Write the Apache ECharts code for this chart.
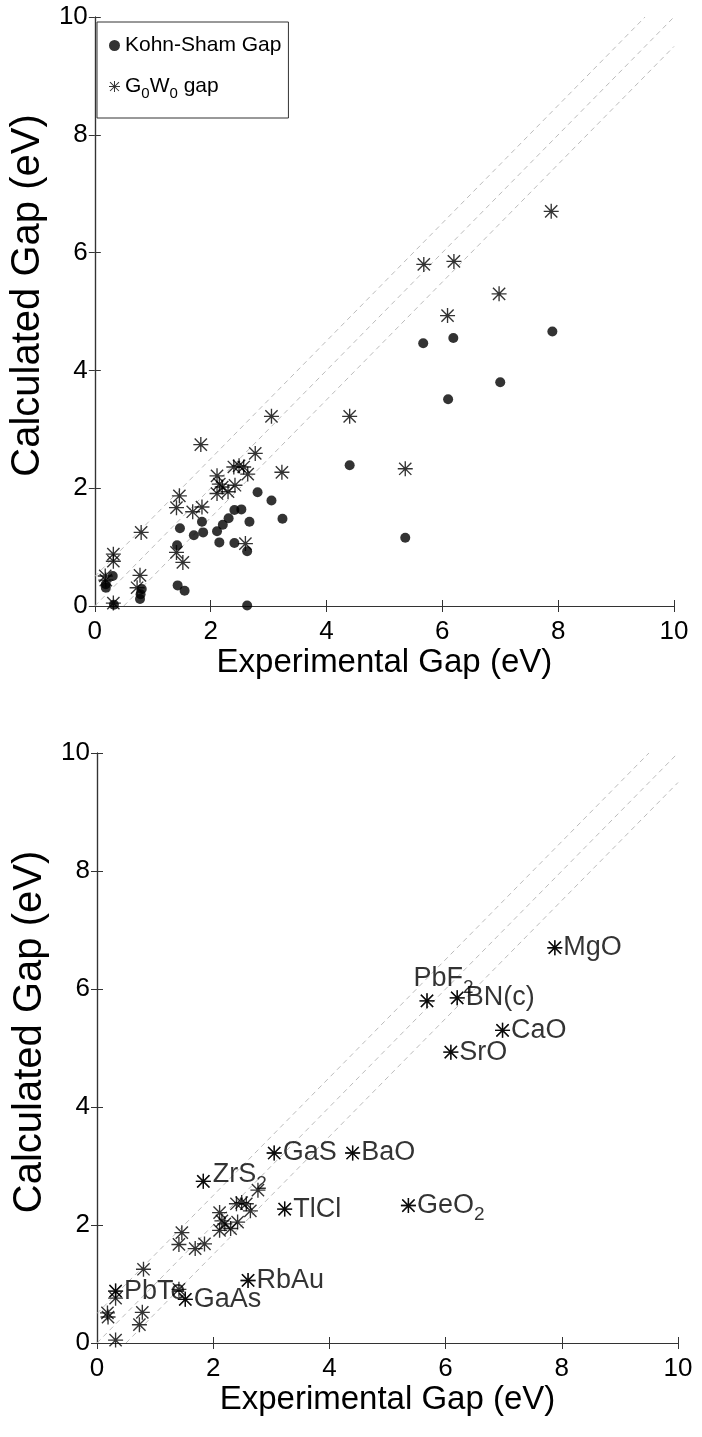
<!DOCTYPE html>
<html>
<head>
<meta charset="utf-8">
<script src="https://cdn.jsdelivr.net/npm/echarts@6/dist/echarts.min.js"></script>
<style>
  html, body { margin: 0; padding: 0; background: #fff; }
  #chart { width: 702px; height: 1437px; }
</style>
</head>
<body>
<div id="chart"></div>
<script>
// Kohn-Sham gaps [experimental, calculated]
const ksGap = [
  [0.19, 0.37], [0.19, 0.31], [0.31, 0.51], [0.33, 0.02], [0.78, 0.12],
  [0.79, 0.20], [0.81, 0.29], [1.42, 1.03], [1.43, 0.35], [1.55, 0.26],
  [1.47, 1.32], [1.71, 1.20], [1.85, 1.43], [1.87, 1.25], [2.11, 1.27],
  [2.15, 1.08], [2.21, 1.38], [2.31, 1.49], [2.41, 1.63], [2.53, 1.64],
  [2.41, 1.07], [2.63, 0.93], [2.67, 1.43], [2.63, 0.01], [2.81, 1.93],
  [3.05, 1.79], [3.24, 1.48], [4.40, 2.39], [5.36, 1.16], [5.67, 4.46],
  [6.10, 3.51], [6.19, 4.55], [7.00, 3.80], [7.90, 4.66]
];

// G0W0 gaps [experimental, calculated]
const gwGap = [
  [0.18, 0.51], [0.19, 0.44], [0.32, 0.88], [0.32, 0.76], [0.32, 0.05],
  [0.78, 0.52], [0.73, 0.31], [0.80, 1.25], [1.41, 0.91], [1.52, 0.74],
  [1.41, 1.67], [1.46, 1.87], [1.69, 1.60], [1.85, 1.68], [1.83, 2.74],
  [2.11, 2.21], [2.15, 2.07], [2.20, 2.02], [2.11, 1.91], [2.30, 1.94],
  [2.42, 2.05], [2.40, 2.36], [2.49, 2.38], [2.57, 2.36], [2.64, 2.24],
  [2.60, 1.06], [2.77, 2.59], [3.05, 3.22], [3.23, 2.27], [4.40, 3.22],
  [5.36, 2.33], [5.68, 5.80], [6.09, 4.93], [6.20, 5.85], [6.98, 5.30],
  [7.88, 6.70]
];

// labelled materials in the lower panel: [name, index into gwGap]
const materials = [
  ['PbTe', 2], ['GaAs', 9], ['RbAu', 25], ['TlCl', 28], ['ZrS_2', 14],
  ['GaS', 27], ['BaO', 29], ['GeO_2', 30], ['PbF_2', 31], ['SrO', 32],
  ['BN(c)', 33], ['CaO', 34], ['MgO', 35]
];

// guide lines y = x + 0.5, y = x, y = x - 0.5
const guideLines = [
  [[0, 0.5], [9.5, 10]],
  [[0, 0], [10, 10]],
  [[0.5, 0], [10, 9.5]]
];

const starPath = 'path://M0,9.1H20V10.9H0Z M9.1,0H10.9V20H9.1Z ' +
  'M2.5,1.2L18.8,17.5L17.5,18.8L1.2,2.5Z M17.5,1.2L18.8,2.5L2.5,18.8L1.2,17.5Z';

const FONT = 'Liberation Sans, Arial, Helvetica, sans-serif';

function fmtSub(s) {
  // "PbF_2" -> rich text with subscript
  return s.replace(/_(\w)/g, '{sub|$1}');
}

const chart = echarts.init(document.getElementById('chart'));

const grids = [
  { left: 92, top: 17, width: 582, height: 589 },
  { left: 97, top: 753, width: 581, height: 590 }
];

function makeX(gridIndex, top) {
  return {
    type: 'value', gridIndex: gridIndex, position: top ? 'top' : 'bottom',
    min: 0, max: 10, interval: 2,
    name: top ? '' : 'Experimental Gap (eV)',
    nameLocation: 'middle', nameGap: 40,
    nameTextStyle: { fontSize: 33, fontFamily: FONT, color: '#000' },
    axisLine: { show: true, lineStyle: { color: '#333', width: 1.2 } },
    axisTick: { show: true, inside: true, length: 6, lineStyle: { color: '#333' } },
    axisLabel: { show: !top, fontSize: 26, fontFamily: FONT, color: '#000', margin: 13 },
    splitLine: { show: false }
  };
}
function makeY(gridIndex, right) {
  return {
    type: 'value', gridIndex: gridIndex, position: right ? 'right' : 'left',
    min: 0, max: 10, interval: 2,
    name: right ? '' : 'Calculated Gap (eV)',
    nameLocation: 'middle', nameGap: 42,
    nameTextStyle: { fontSize: 40, fontFamily: FONT, color: '#000', padding: [0, 0, 0, 32] },
    axisLine: { show: true, lineStyle: { color: '#333', width: 1.2 } },
    axisTick: { show: true, inside: true, length: 6, lineStyle: { color: '#333' } },
    axisLabel: { show: !right, fontSize: 26, fontFamily: FONT, color: '#000', margin: 7 },
    splitLine: { show: false }
  };
}

function guideSeries(axisIdx) {
  return guideLines.map(function (pts) {
    return {
      type: 'line', xAxisIndex: axisIdx, yAxisIndex: axisIdx,
      data: pts, symbol: 'none', silent: true,
      lineStyle: { color: '#bbb', width: 1, type: [5, 4] },
      z: 1
    };
  });
}

const labelled = materials.map(function (m) {
  const item = { value: gwGap[m[1]], name: m[0] };
  if (m[0] === 'PbF_2') {
    item.label = { position: [-6, -33] };
  } else if (m[0] === 'ZrS_2') {
    item.label = { position: [17, -18] };
  }
  return item;
});

const option = {
  backgroundColor: '#fff',
  animation: false,
  grid: grids,
  xAxis: [makeX(0, false), makeX(0, true), makeX(1, false), makeX(1, true)],
  yAxis: [makeY(0, false), makeY(0, true), makeY(1, false), makeY(1, true)],
  legend: {
    data: ['Kohn-Sham Gap', 'G0W0 gap'],
    orient: 'vertical',
    left: 97, top: 22,
    padding: [13, 7, 17, 12],
    itemGap: 20,
    itemTextGap: 14,
    itemWidth: 11, itemHeight: 11,
    backgroundColor: '#fff',
    borderColor: '#333', borderWidth: 1,
    textStyle: {
      fontSize: 21, fontFamily: FONT, color: '#000',
      rich: { sub: { fontSize: 15, fontFamily: FONT, color: '#000', padding: [14, 0, 0, 0] } }
    },
    formatter: function (name) {
      return name === 'G0W0 gap' ? 'G{sub|0}W{sub|0} gap' : name;
    }
  },
  series: guideSeries(0).concat([
    {
      name: 'Kohn-Sham Gap', type: 'scatter', xAxisIndex: 0, yAxisIndex: 0,
      data: ksGap, symbol: 'circle', symbolSize: 10,
      itemStyle: { color: '#000' }, z: 3
    },
    {
      name: 'G0W0 gap', type: 'scatter', xAxisIndex: 0, yAxisIndex: 0,
      data: gwGap, symbol: starPath, symbolSize: 15,
      itemStyle: { color: '#000' }, z: 3
    }
  ], guideSeries(2), [
    {
      name: 'G0W0 lower', type: 'scatter', xAxisIndex: 2, yAxisIndex: 2,
      data: gwGap, symbol: starPath, symbolSize: 15,
      itemStyle: { color: '#000' }, z: 3
    },
    {
      name: 'G0W0 names', type: 'scatter', xAxisIndex: 2, yAxisIndex: 2,
      data: labelled, symbol: starPath, symbolSize: 15,
      itemStyle: { color: '#000' }, z: 4,
      label: {
        show: true, position: 'right', distance: 1,
        fontSize: 27, fontFamily: FONT, color: '#000',
        rich: { sub: { fontSize: 19, fontFamily: FONT, color: '#000', padding: [18, 0, 0, 0] } },
        formatter: function (p) { return fmtSub(p.name); }
      },
      labelLayout: { hideOverlap: false }
    }
  ])
};

chart.setOption(option);
</script>
</body>
</html>
